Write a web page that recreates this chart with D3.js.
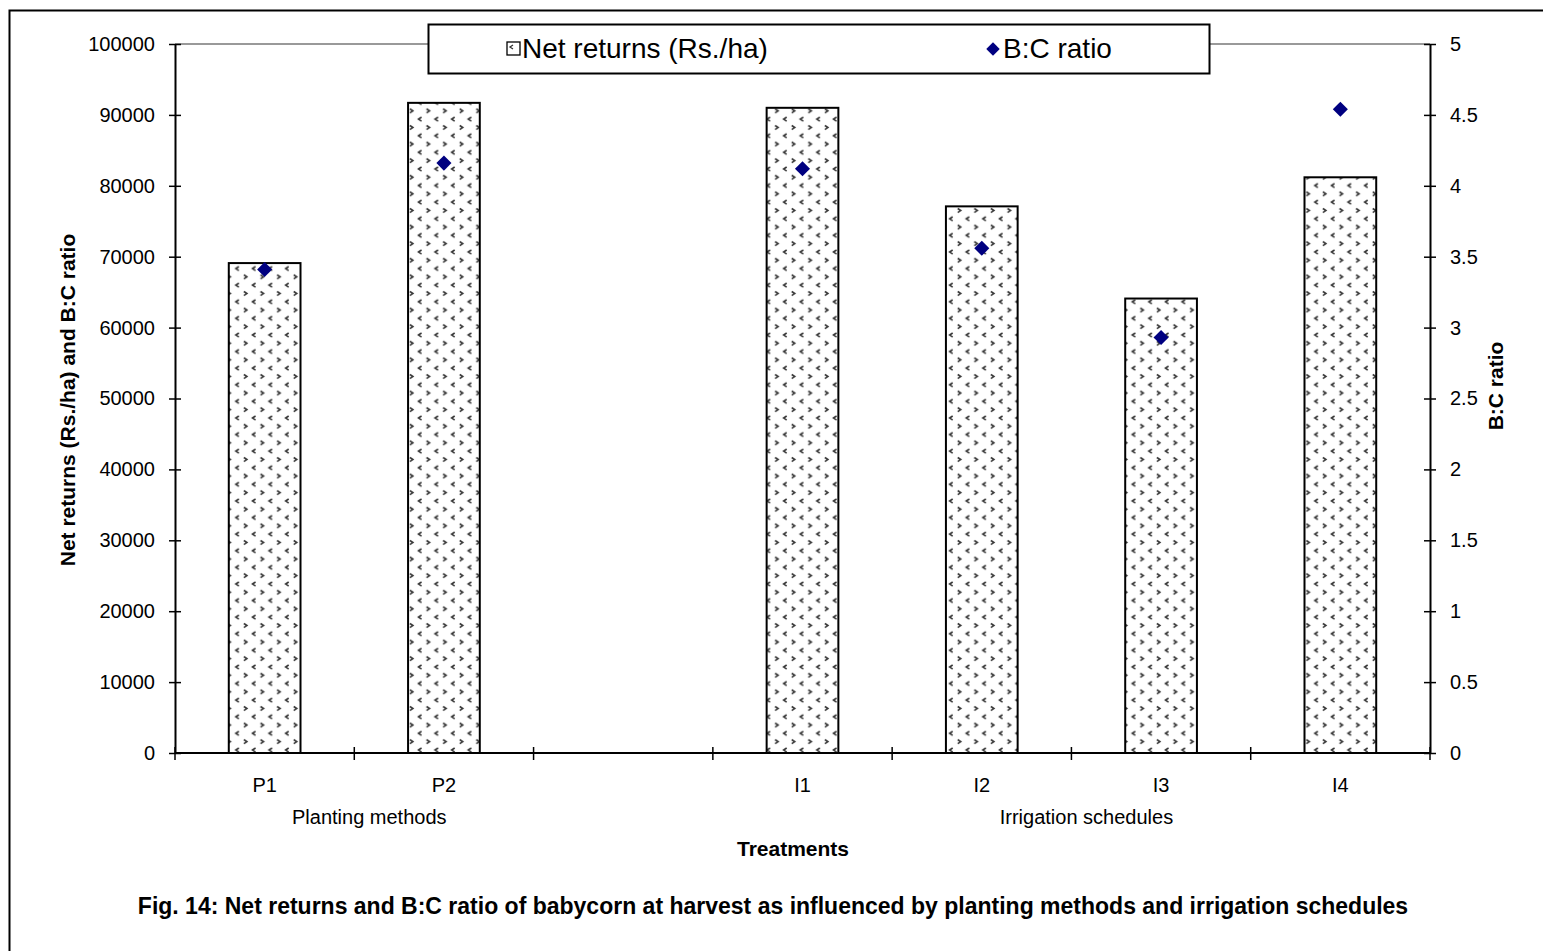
<!DOCTYPE html>
<html>
<head>
<meta charset="utf-8">
<script src="https://d3js.org/d3.v7.min.js"></script>
<style>
  body { margin: 0; background: #fff; }
  text { font-family: "Liberation Sans", Arial, sans-serif; }
</style>
</head>
<body>
<div id="chart"></div>
<script>
    const width = 1543;
    const height = 951;

    // data
    const categories = ["P1", "P2", "", "I1", "I2", "I3", "I4"];
    const netReturns = [69100, 91700, null, 91000, 77100, 64100, 81200];
    const bcRatio = [3.41, 4.16, null, 4.12, 3.56, 2.93, 4.54];
    const groups = [
        { name: "Planting methods", from: "P1", to: "P2" },
        { name: "Irrigation schedules", from: "I1", to: "I4" }
    ];
    const leftTicks = [0, 10000, 20000, 30000, 40000, 50000, 60000, 70000, 80000, 90000, 100000];
    const rightTicks = [0, 0.5, 1, 1.5, 2, 2.5, 3, 3.5, 4, 4.5, 5];

    const plot = { left: 175, right: 1430, top: 44, bottom: 753 };
    const FONT = "Liberation Sans, Arial, sans-serif";

    const svg = d3.select("#chart")
        .append("svg")
        .attr("width", width)
        .attr("height", height);

    const defs = svg.append("defs");
    const pat = defs.append("pattern")
        .attr("id", "chev")
        .attr("patternUnits", "userSpaceOnUse")
        .attr("width", 16.6)
        .attr("height", 16.6);
    pat.append("rect").attr("width", 16.6).attr("height", 16.6).attr("fill", "#fff");
    pat.append("path")
        .attr("d", "M6.5,1 L3.5,3 L6.5,5")
        .attr("fill", "none").attr("stroke", "#333").attr("stroke-width", 1.6);
    pat.append("path")
        .attr("d", "M11.5,9.3 L14.5,11.3 L11.5,13.3")
        .attr("fill", "none").attr("stroke", "#333").attr("stroke-width", 1.6);

    // outer frame (runs off the picture on the right and bottom)
    svg.append("rect")
        .attr("x", 9.5).attr("y", 10.5)
        .attr("width", 1600).attr("height", 1000)
        .attr("fill", "none").attr("stroke", "#000").attr("stroke-width", 2);

    const x = d3.scaleBand()
        .domain(categories.map((d, i) => i))
        .range([plot.left, plot.right])
        .paddingInner(0.6)
        .paddingOuter(0.3);
    const slot = (plot.right - plot.left) / categories.length;

    const yL = d3.scaleLinear().domain([0, 100000]).range([plot.bottom, plot.top]);
    const yR = d3.scaleLinear().domain([0, 5]).range([plot.bottom, plot.top]);

    // top border of plot area
    svg.append("line")
        .attr("x1", plot.left).attr("x2", plot.right)
        .attr("y1", plot.top).attr("y2", plot.top)
        .attr("stroke", "#999").attr("stroke-width", 2);

    // bars
    svg.append("g").selectAll("rect")
        .data(netReturns.map((v, i) => ({ v, i })).filter(d => d.v != null))
        .join("rect")
        .attr("x", d => x(d.i))
        .attr("width", x.bandwidth())
        .attr("y", d => yL(d.v))
        .attr("height", d => yL(0) - yL(d.v))
        .attr("fill", "url(#chev)")
        .attr("stroke", "#000")
        .attr("stroke-width", 2);

    // diamonds
    const diamond = d3.symbol().type(d3.symbolDiamond2).size(145);
    svg.append("g").selectAll("path")
        .data(bcRatio.map((v, i) => ({ v, i })).filter(d => d.v != null))
        .join("path")
        .attr("d", diamond)
        .attr("transform", d => `translate(${x(d.i) + x.bandwidth() / 2},${yR(d.v)})`)
        .attr("fill", "#000080");

    // left axis
    const gL = svg.append("g").attr("transform", `translate(${plot.left},0)`)
        .call(d3.axisLeft(yL).tickValues(leftTicks).tickFormat(d3.format("d")).tickSizeInner(6).tickSizeOuter(0).tickPadding(14));
    gL.selectAll(".tick line").attr("x2", 6).attr("x1", -6).attr("stroke", "#000").attr("stroke-width", 1.5);
    gL.select(".domain").attr("stroke", "#000").attr("stroke-width", 2);
    gL.selectAll("text").attr("font-size", 20).attr("fill", "#000").attr("font-family", FONT);

    // right axis
    const gR = svg.append("g").attr("transform", `translate(${plot.right},0)`)
        .call(d3.axisRight(yR).tickValues(rightTicks).tickFormat(d => String(d)).tickSizeInner(6).tickSizeOuter(0).tickPadding(14));
    gR.selectAll(".tick line").attr("x1", -6).attr("x2", 6).attr("stroke", "#000").attr("stroke-width", 1.5);
    gR.select(".domain").attr("stroke", "#000").attr("stroke-width", 2);
    gR.selectAll("text").attr("font-size", 20).attr("fill", "#000").attr("font-family", FONT);

    // x axis
    svg.append("line")
        .attr("x1", plot.left).attr("x2", plot.right)
        .attr("y1", plot.bottom).attr("y2", plot.bottom)
        .attr("stroke", "#000").attr("stroke-width", 2);
    const bounds = d3.range(categories.length + 1).map(i => plot.left + i * slot);
    svg.append("g").selectAll("line")
        .data(bounds)
        .join("line")
        .attr("x1", d => d).attr("x2", d => d)
        .attr("y1", plot.bottom - 6).attr("y2", plot.bottom + 7)
        .attr("stroke", "#000").attr("stroke-width", 1.5);

    svg.append("g").selectAll("text")
        .data(categories.map((c, i) => ({ c, i })).filter(d => d.c))
        .join("text")
        .attr("x", d => x(d.i) + x.bandwidth() / 2)
        .attr("y", 792)
        .attr("text-anchor", "middle")
        .attr("font-size", 20)
        .text(d => d.c);

    svg.append("g").selectAll("text")
        .data(groups)
        .join("text")
        .attr("x", g => {
            const a = categories.indexOf(g.from), b = categories.indexOf(g.to);
            return (x(a) + x(b) + x.bandwidth()) / 2 + 15;
        })
        .attr("y", 824)
        .attr("text-anchor", "middle")
        .attr("font-size", 20)
        .text(g => g.name);

    svg.append("text")
        .attr("x", 793).attr("y", 856)
        .attr("text-anchor", "middle")
        .attr("font-size", 21).attr("font-weight", "bold")
        .text("Treatments");

    svg.append("text")
        .attr("transform", "translate(75,400) rotate(-90)")
        .attr("text-anchor", "middle")
        .attr("font-size", 21).attr("font-weight", "bold")
        .text("Net returns (Rs./ha) and B:C ratio");

    svg.append("text")
        .attr("transform", "translate(1503,386) rotate(-90)")
        .attr("text-anchor", "middle")
        .attr("font-size", 21).attr("font-weight", "bold")
        .text("B:C ratio");

    svg.append("text")
        .attr("x", 773).attr("y", 914)
        .attr("text-anchor", "middle")
        .attr("font-size", 23).attr("font-weight", "bold")
        .text("Fig. 14: Net returns and B:C ratio of babycorn at harvest as influenced by planting methods and irrigation schedules");

    // legend
    const lg = svg.append("g");
    lg.append("rect")
        .attr("x", 428.5).attr("y", 24.5)
        .attr("width", 781).attr("height", 49)
        .attr("fill", "#fff").attr("stroke", "#000").attr("stroke-width", 2);
    lg.append("rect")
        .attr("x", 507).attr("y", 42).attr("width", 13).attr("height", 13)
        .attr("fill", "#fff").attr("stroke", "#000").attr("stroke-width", 1.3);
    lg.append("path")
        .attr("d", "M513,45 L510,47 L513,49")
        .attr("fill", "none").attr("stroke", "#333").attr("stroke-width", 1.3);
    lg.append("text")
        .attr("x", 522).attr("y", 58)
        .attr("font-size", 28)
        .text("Net returns (Rs./ha)");
    lg.append("path")
        .attr("d", d3.symbol().type(d3.symbolDiamond2).size(115))
        .attr("transform", "translate(993,49)")
        .attr("fill", "#000080");
    lg.append("text")
        .attr("x", 1003).attr("y", 58)
        .attr("font-size", 28)
        .text("B:C ratio");
</script>
</body>
</html>
